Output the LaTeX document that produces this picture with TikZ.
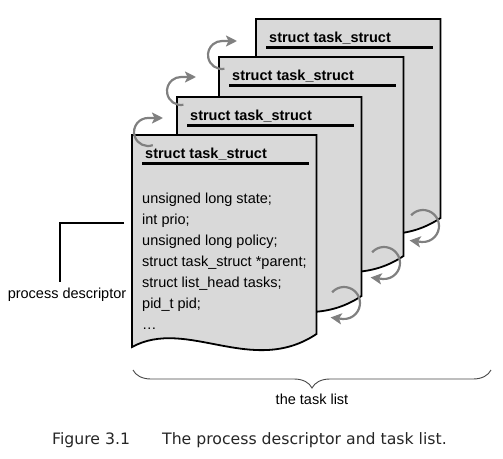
\documentclass[tikz,border=0pt]{standalone}
\usepackage{fontspec}
\setmainfont{Liberation Sans}
\newfontfamily\capfont{DejaVu Sans}
\usetikzlibrary{
  arrows.meta,
  calc,
  positioning,
  decorations.pathreplacing
}
\definecolor{cardgray}{RGB}{217,217,217}
\definecolor{linkgray}{RGB}{128,128,128}
\definecolor{bracegray}{RGB}{70,70,70}
% one task_struct sheet: name, left, top (pixel units)
\newcommand{\taskcard}[3]{%
  \begin{scope}[shift={(#2,#3)}]
    \draw[card] (0,0) -- (184.5,0) -- (184.5,199)
      .. controls (120,242) and (55,182) .. (0,212) -- cycle;
    \node[head, anchor=west] (#1) at (13,19) {struct task\_struct};
    \draw[headline] (10,28) -- (176.5,28);
  \end{scope}}

\begin{document}
\begin{tikzpicture}[
  x=1pt, y=-1pt,
  card/.style={draw=black, fill=cardgray, line width=1.8pt},
  head/.style={font=\fontsize{14.5}{17}\selectfont\bfseries, inner sep=0pt},
  headline/.style={line width=3pt},
  fields/.style={font=\fontsize{14.5}{21}\selectfont, align=left, inner sep=0pt},
  labeltext/.style={font=\fontsize{14.5}{17}\selectfont, inner sep=0pt},
  linkarr/.style={draw=linkgray, line width=2.2pt,
                  -{Stealth[length=11pt,width=11pt,inset=2.5pt]}},
  tlbrace/.style={draw=bracegray, line width=0.9pt, decorate,
                  decoration={brace, mirror, amplitude=18pt}},
  pdline/.style={line width=1.1pt}
]
\useasboundingbox (0,0) rectangle (503,458);

% the sheets, back to front
\taskcard{task4}{256}{19}
\taskcard{task3}{219}{57}
\taskcard{task2}{177}{97}
\taskcard{task1}{132}{135}

\node[fields, anchor=north west] (fields) at (142,192.5)
  {unsigned long state;\\ int prio;\\ unsigned long policy;\\
   struct task\_struct *parent;\\ struct list\_head tasks;\\ pid\_t pid;\\ \ldots};

% next links
\coordinate (next1) at (148,132);
\coordinate (next2) at (181,91);
\coordinate (next3) at (222,55);
\draw[linkarr] ([shift={(70:14)}]next1) arc[start angle=70, end angle=270, radius=14] -- ++(15,0);
\draw[linkarr] ([shift={(80:14)}]next2) arc[start angle=80, end angle=270, radius=14] -- ++(15,0);
\draw[linkarr] ([shift={(80:14)}]next3) arc[start angle=80, end angle=270, radius=14] -- ++(15,0);

% prev links
\coordinate (prev1) at (344,303);
\coordinate (prev2) at (384,263);
\coordinate (prev3) at (423,226);
\draw[linkarr] ([shift={(222:16)}]prev1) arc[start angle=222, end angle=455, radius=16] -- ++(-12,-1.5);
\draw[linkarr] ([shift={(222:16)}]prev2) arc[start angle=222, end angle=455, radius=16] -- ++(-12,-1.5);
\draw[linkarr] ([shift={(222:16)}]prev3) arc[start angle=222, end angle=455, radius=16] -- ++(-12,-1.5);

% process descriptor callout
\node[labeltext] (pd) at (67,295) {process descriptor};
\coordinate (pdtip) at (124,223);
\draw[pdline] (pdtip) -| ([xshift=-7pt,yshift=6pt]pd.north);

% task list brace
\coordinate (listL) at (133,370);
\coordinate (listR) at (491,370);
\draw[tlbrace] (listL) -- (listR);
\node[labeltext] (tasklist) at (312,399) {the task list};

% caption
\node[anchor=west, inner sep=0pt, font=\capfont\fontsize{15.7}{18}\selectfont, text=black!85] (caption) at (52,440)
  {\makebox[110pt][l]{Figure 3.1}The process descriptor and task list.};

\end{tikzpicture}
\end{document}
